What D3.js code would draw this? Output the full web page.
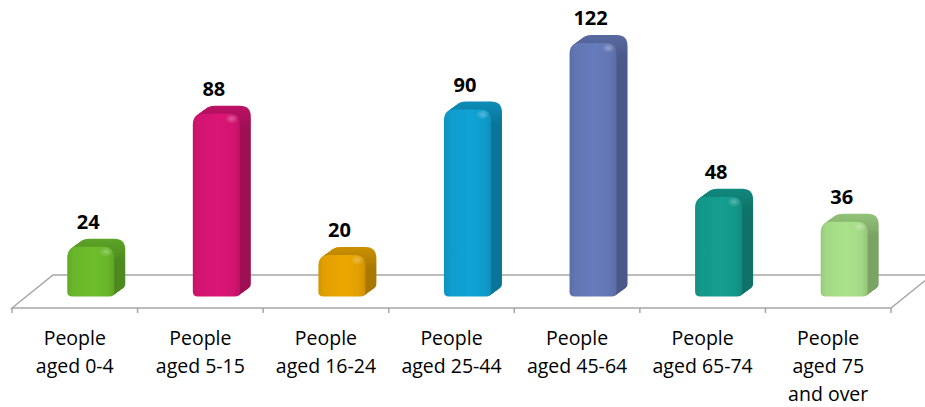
<!DOCTYPE html>
<html>
<head>
<meta charset="utf-8">
<script src="https://cdn.jsdelivr.net/npm/d3@7"></script>
<style>
  html, body { margin: 0; padding: 0; background: #ffffff; }
  svg { display: block; }
</style>
</head>
<body>
<svg id="chart" width="925" height="407"></svg>
<script>
// ---- data ----
const categories = ["People aged 0-4", "People aged 5-15", "People aged 16-24", "People aged 25-44",
                    "People aged 45-64", "People aged 65-74", "People aged 75 and over"];
const values = [24, 88, 20, 90, 122, 48, 36];
const tickLines = [["People", "aged 0-4"], ["People", "aged 5-15"], ["People", "aged 16-24"],
                   ["People", "aged 25-44"], ["People", "aged 45-64"], ["People", "aged 65-74"],
                   ["People", "aged 75", "and over"]];
const baseColors = ["#68b62a", "#d21470", "#e2a000", "#0f9ccc", "#6276b4", "#13978a", "#a3d985"];

// ---- layout ----
const svg = d3.select("#chart");
const x = d3.scaleBand().domain(categories).range([12, 891]).padding(0);
const y = d3.scaleLinear().domain([0, 122]).range([288.6, 35]);
const bw = x.bandwidth();
const frontW = 47, depthX = 11, depthY = 8;
const floorFront = 308, floorBack = 275, floorSkew = 41;

// floor
const floor = svg.append("g");
floor.append("path")
  .attr("d", `M${x.range()[0]},${floorFront} L${x.range()[0] + floorSkew},${floorBack} L${x.range()[1] + floorSkew},${floorBack} L${x.range()[1]},${floorFront} Z`)
  .attr("fill", "none").attr("stroke", "#a6a6a6").attr("stroke-width", 1.5);
const bounds = categories.map(c => x(c)).concat([x.range()[1]]);
floor.selectAll("line.tick").data(bounds).join("line")
  .attr("x1", d => d).attr("x2", d => d)
  .attr("y1", floorFront).attr("y2", floorFront + 5)
  .attr("stroke", "#a6a6a6").attr("stroke-width", 1.5);

function rr(x0, y0, w, h, rt, rb) {
  return `M${x0},${y0 + rt} Q${x0},${y0} ${x0 + rt},${y0} L${x0 + w - rt},${y0} Q${x0 + w},${y0} ${x0 + w},${y0 + rt}` +
         ` L${x0 + w},${y0 + h - rb} Q${x0 + w},${y0 + h} ${x0 + w - rb},${y0 + h} L${x0 + rb},${y0 + h} Q${x0},${y0 + h} ${x0},${y0 + h - rb} Z`;
}

const defs = svg.append("defs");
const bars = svg.append("g");
const N = 14;

categories.forEach((c, i) => {
  const v = values[i];
  const base = d3.color(baseColors[i]);
  const dark = base.darker(0.8);
  const mid = base.darker(0.3);
  const light = base.brighter(0.12);
  const xL = x(c) + bw * 0.44;
  const yBack = y(v), yBottomBack = y(0);
  const h = yBottomBack - yBack;

  const gid = "body" + i;
  const g1 = defs.append("linearGradient").attr("id", gid)
    .attr("gradientUnits", "userSpaceOnUse")
    .attr("x1", 0).attr("x2", 0).attr("y1", yBack).attr("y2", yBack + 22);
  g1.append("stop").attr("offset", "0%").attr("stop-color", mid.formatHex());
  g1.append("stop").attr("offset", "55%").attr("stop-color", base.darker(0.55).formatHex());
  g1.append("stop").attr("offset", "100%").attr("stop-color", dark.formatHex());

  const fid = "front" + i;
  const g2 = defs.append("linearGradient").attr("id", fid)
    .attr("x1", 0).attr("x2", 1).attr("y1", 0).attr("y2", 0);
  [[0, base.darker(0.2)], [0.12, base], [0.55, light], [0.85, base], [1, base.darker(0.25)]]
    .forEach(([o, col]) => g2.append("stop").attr("offset", o).attr("stop-color", col.formatHex()));

  const hid = "hl" + i;
  const g3 = defs.append("radialGradient").attr("id", hid);
  g3.append("stop").attr("offset", "0%").attr("stop-color", "#ffffff").attr("stop-opacity", 0.3);
  g3.append("stop").attr("offset", "100%").attr("stop-color", "#ffffff").attr("stop-opacity", 0);

  const gb = bars.append("g");
  const r = Math.min(11, h / 3);
  for (let k = 0; k <= N; k++) {
    const t = k / N;
    gb.append("path")
      .attr("d", rr(xL + depthX * (1 - t), yBack + depthY * t, frontW, h, r, 5))
      .attr("fill", k === N ? `url(#${fid})` : `url(#${gid})`);
  }
  gb.append("ellipse")
    .attr("cx", xL + frontW - 8).attr("cy", yBack + depthY + 5)
    .attr("rx", 7).attr("ry", 5)
    .attr("fill", `url(#${hid})`);

  svg.append("text")
    .attr("x", xL + 21).attr("y", yBack - 10)
    .attr("text-anchor", "middle")
    .attr("font-family", "'Open Sans', sans-serif")
    .attr("font-weight", "bold").attr("font-size", 20)
    .attr("fill", "#000")
    .text(v);
});

// category labels
const lab = svg.append("g");
categories.forEach((c, i) => {
  const t = lab.append("text")
    .attr("x", x(c) + bw / 2).attr("y", 345)
    .attr("text-anchor", "middle")
    .attr("font-family", "'Open Sans', sans-serif")
    .attr("font-size", 19.5).attr("fill", "#000");
  tickLines[i].forEach((ln, j) => {
    t.append("tspan").attr("x", x(c) + bw / 2).attr("y", 345 + j * 28).text(ln);
  });
});
</script>
</body>
</html>
